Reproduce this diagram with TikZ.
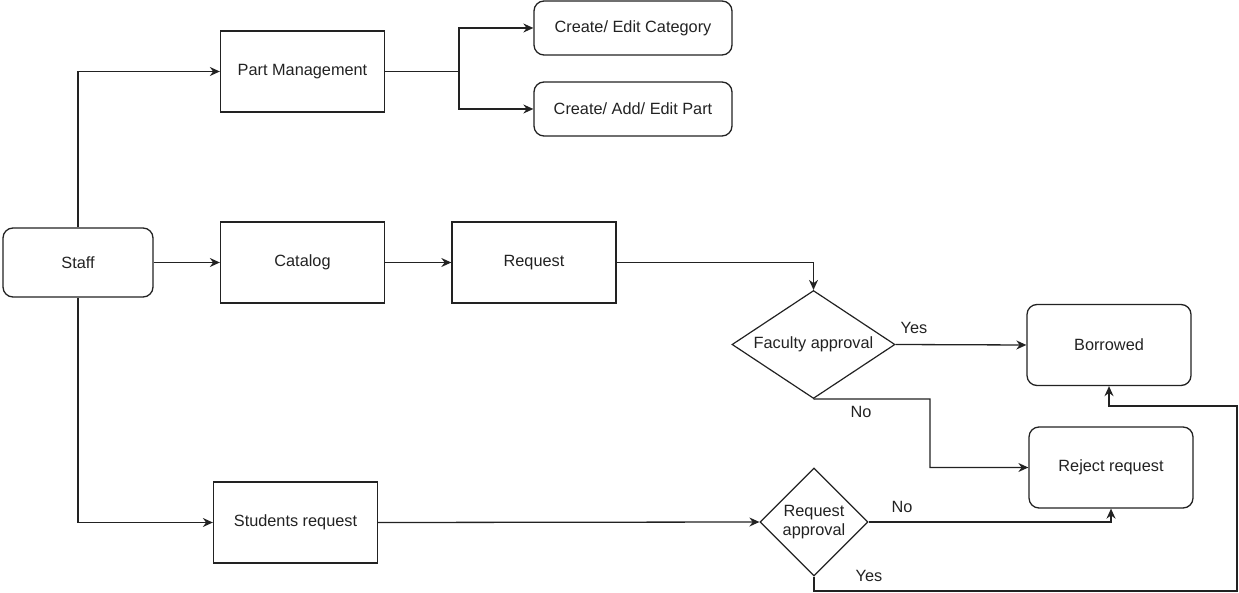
\documentclass[tikz,border=0pt]{standalone}
\usepackage{fontspec}
\setmainfont{Liberation Sans}
\usetikzlibrary{shapes.geometric,arrows.meta}
\definecolor{ink}{HTML}{222222}
\begin{document}
\begin{tikzpicture}[x=1pt,y=-1pt,
  every node/.style={font=\fontsize{16.3}{19.5}\selectfont, text=ink},
  box/.style={draw=ink, line width=1.3pt, rectangle, inner sep=0pt, minimum width=164pt, minimum height=81pt},
  rbox/.style={box, rounded corners=10pt},
  dia/.style={draw=ink, line width=1.2pt, diamond, inner sep=0pt, align=center},
  lbl/.style={inner sep=0pt},
  link/.style={draw=ink, line width=1.3pt},
  arr/.style={link, -{Stealth[length=10pt,width=9pt]}}
]
\useasboundingbox (0,0) rectangle (1239,593);

% boxes
\node[rbox, minimum width=150pt, minimum height=69pt] (staff) at (78,262.5) {Staff};
\node[box] (pm) at (302.5,71.5) {Part Management};
\node[rbox, minimum width=198pt, minimum height=54pt] (cat) at (633,28) {Create/ Edit Category};
\node[rbox, minimum width=198pt, minimum height=54pt] (part) at (633,109) {Create/ Add/ Edit Part};
\node[box] (catalog) at (302.5,262.5) {Catalog};
\node[box] (req) at (534,262.5) {Request};
\node[box] (sr) at (295.5,522.5) {Students request};
\node[rbox] (borrowed) at (1109,345) {Borrowed};
\node[rbox] (reject) at (1111,467.5) {Reject request};

% decisions
\node[dia, minimum width=163pt, minimum height=108pt, aspect=1.5] (fa) at (813.5,344.5) {Faculty approval};
\node[dia, minimum width=108pt, minimum height=108pt, aspect=1] (ra) at (814,522) {Request\\approval};

% edge labels
\node[lbl] (ylfa) at (914,328) {Yes};
\node[lbl] (nlfa) at (861,412) {No};
\node[lbl] (nlra) at (902,507) {No};
\node[lbl] (ylra) at (869,576) {Yes};

% bend points
\coordinate (pmfork) at (459,71.5);
\coordinate (nobend) at (930,399);
\coordinate (yesdown) at (814,591);
\coordinate (yesright) at (1237,591);
\coordinate (yesup) at (1237,406);

% connectors
\draw[arr] (staff.north) |- (pm.west);
\draw[arr] (staff.east) -- (catalog.west);
\draw[arr] (staff.south) |- (sr.west);
\draw[link] (pm.east) -- (pmfork);
\draw[arr] (pmfork) |- (cat.west);
\draw[arr] (pmfork) |- (part.west);
\draw[arr] (catalog.east) -- (req.west);
\draw[arr] (req.east) -| (fa.north);
\draw[arr] (fa.east) -- (borrowed.west);
\draw[arr] (fa.south) -- (nobend) |- (reject.west);
\draw[arr] (sr.east) -- (ra.west);
\draw[arr] (ra.east) -| (reject.south);
\draw[arr] (ra.south) -- (yesdown) -- (yesright) -- (yesup) -| (borrowed.south);
\end{tikzpicture}
\end{document}
